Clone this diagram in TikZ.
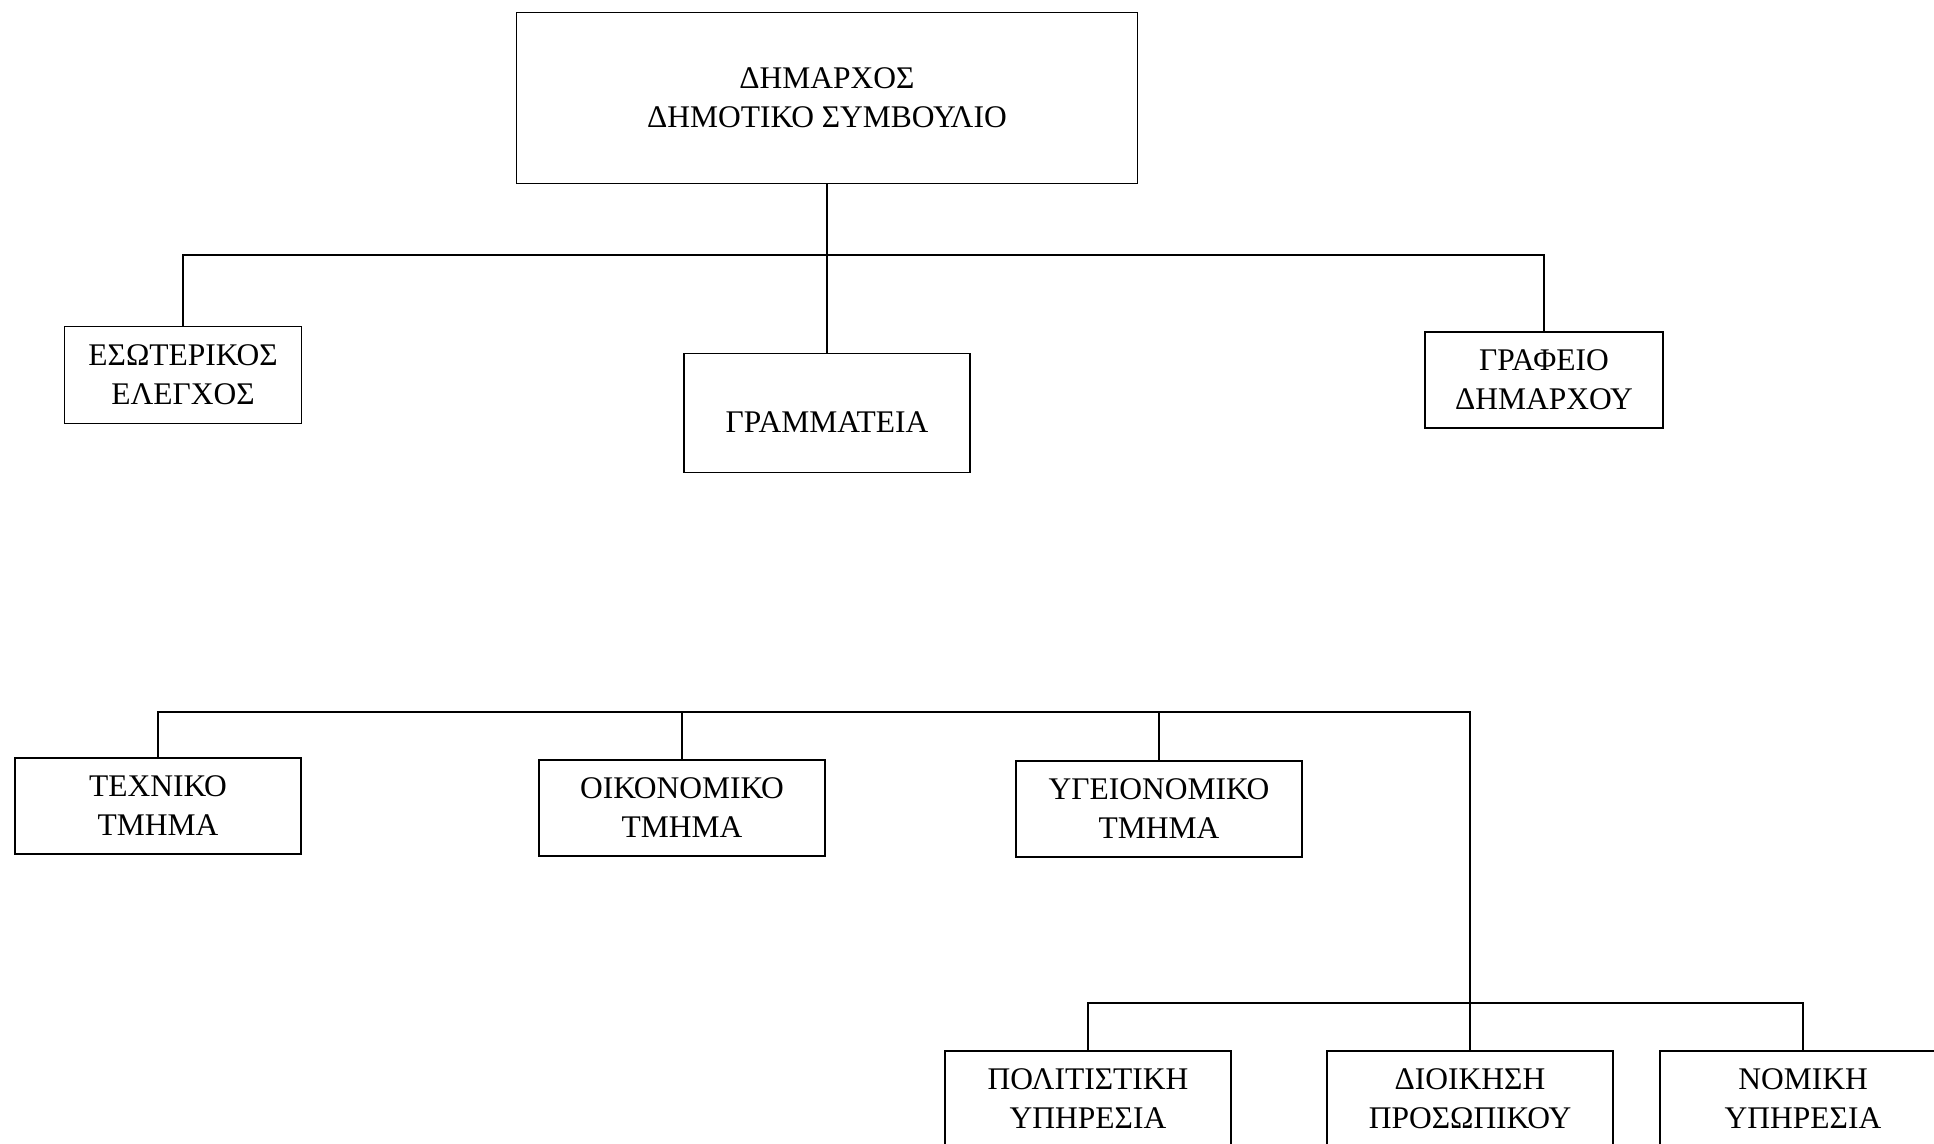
\documentclass[tikz,border=0pt]{standalone}
\usepackage{fontspec}
\setmainfont{Liberation Serif}
\usepackage{tikz}
\usetikzlibrary{arrows, positioning}

\begin{document}
\begin{tikzpicture}[x=1pt,y=-1pt,line width=1.5pt]
    \tikzstyle{office}=[shape=rectangle,draw,align=center,inner sep=0pt,minimum width=286pt,minimum height=96pt,font=\fontsize{31.5}{39}\selectfont]
    \tikzstyle{wire}=[draw,line width=1.5pt]

    \useasboundingbox (0,0) rectangle (1934,1143);

    \node[office, minimum width=621pt, minimum height=171pt] (D0) at (827,98) {ΔΗΜΑΡΧΟΣ\\ΔΗΜΟΤΙΚΟ ΣΥΜΒΟΥΛΙΟ};
    \node[office, minimum width=237pt, minimum height=97pt] (E1) at (183,375) {ΕΣΩΤΕΡΙΚΟΣ\\ΕΛΕΓΧΟΣ};
    \node[office, minimum height=119pt] (G1) at (827,413) {\raisebox{-9pt}[\height][\depth]{ΓΡΑΜΜΑΤΕΙΑ}};
    \node[office, minimum width=238pt] (F1) at (1544,380) {ΓΡΑΦΕΙΟ\\ΔΗΜΑΡΧΟΥ};

    \node[office] (T2) at (158,806) {ΤΕΧΝΙΚΟ\\ΤΜΗΜΑ};
    \node[office] (O2) at (682,808) {ΟΙΚΟΝΟΜΙΚΟ\\ΤΜΗΜΑ};
    \node[office] (Y2) at (1159,809) {ΥΓΕΙΟΝΟΜΙΚΟ\\ΤΜΗΜΑ};

    \node[office] (P3) at (1088,1099) {ΠΟΛΙΤΙΣΤΙΚΗ\\ΥΠΗΡΕΣΙΑ};
    \node[office] (K3) at (1470,1099) {ΔΙΟΙΚΗΣΗ\\ΠΡΟΣΩΠΙΚΟΥ};
    \node[office] (N3) at (1803,1099) {ΝΟΜΙΚΗ\\ΥΠΗΡΕΣΙΑ};

    \coordinate (bus1) at (827,255);
    \coordinate (bus2) at (1470,712);
    \coordinate (bus3) at (1470,1003);

    \path[wire]
    (D0.south) -- (G1.north)
    (E1.north) |- (bus1) -| (F1.north)
    (T2.north) |- (bus2) -- (K3.north)
    (O2.north) -- (O2.north |- bus2)
    (Y2.north) -- (Y2.north |- bus2)
    (P3.north) |- (bus3) -| (N3.north)
	;
  \end{tikzpicture}
\end{document}
